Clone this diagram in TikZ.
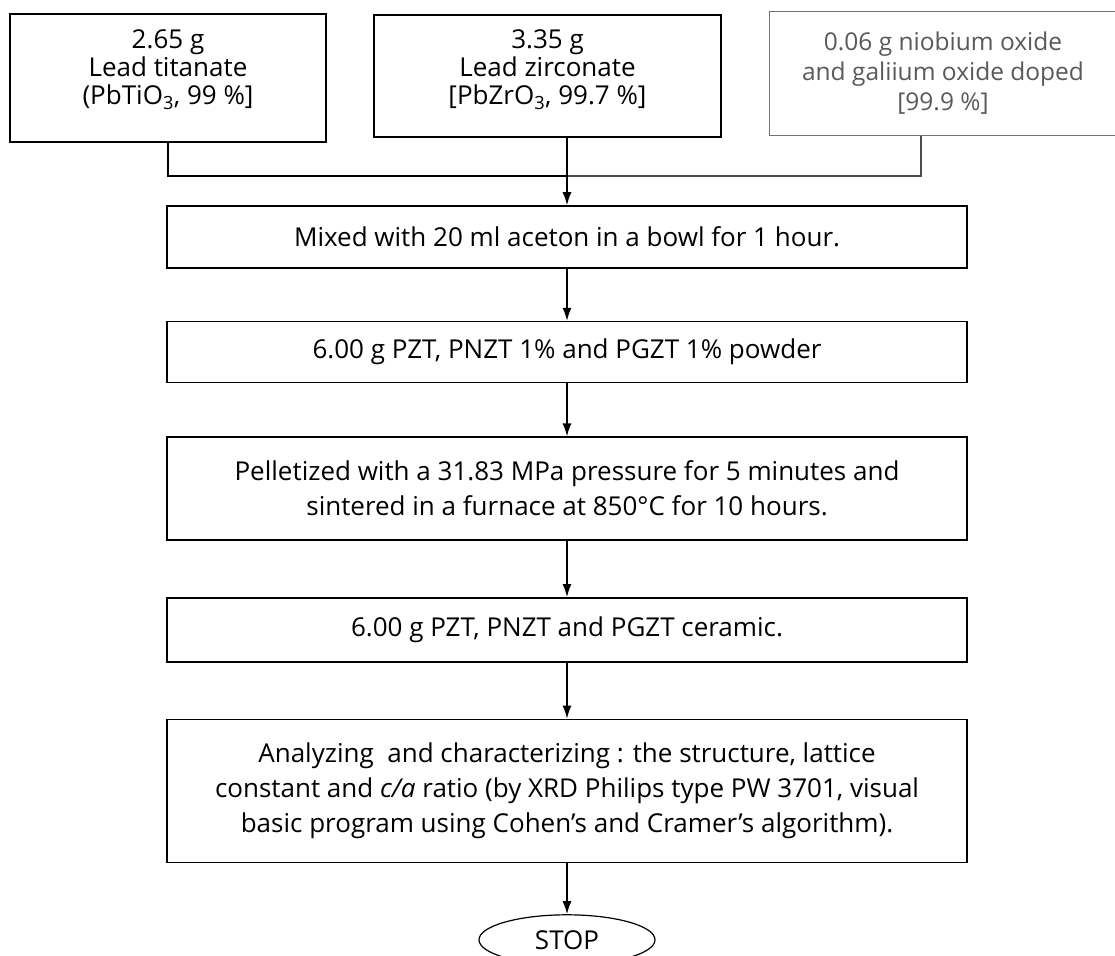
\documentclass[tikz,border=0pt]{standalone}
\usepackage{fontspec}
\setmainfont{Open Sans}
\usepackage{tikz}
\usetikzlibrary{arrows.meta,positioning,shapes.geometric}

\begin{document}
\begin{tikzpicture}[
    x=1pt, y=1pt,
    >={Latex[length=13pt,width=9pt]},
    font=\fontsize{26}{35}\selectfont,
    line width=1.6pt,
    box/.style={
        draw,
        align=center,
        inner sep=0pt,
        minimum width=800pt
    },
    source/.style={
        draw,
        align=center,
        inner sep=0pt,
        font=\fontsize{26}{28}\selectfont
    },
    faint/.style={
        source,
        draw=black!55,
        text=black!65,
        line width=1pt,
        font=\fontsize{24.5}{30}\selectfont
    },
    stopsign/.style={
        ellipse,
        draw,
        line width=1.2pt,
        minimum width=176pt,
        minimum height=50pt
    },
    link/.style={line width=1.4pt},
    edge/.style={->, line width=1.4pt}
]
    \useasboundingbox (0,0) rectangle (1115,-955);

    \node[source, minimum width=316pt, minimum height=128pt] (titanate) at (168,-78)
        {2.65 g\\Lead titanate\\(PbTiO\textsubscript{3}, 99 \%]\\[-6pt]\mbox{}};
    \node[source, minimum width=347pt, minimum height=122pt] (zirconate) at (547.5,-76)
        {3.35 g\\Lead zirconate\\{}[PbZrO\textsubscript{3}, 99.7 \%]\\[-10pt]\mbox{}};
    \node[faint, minimum width=348pt, minimum height=123pt] (dopant) at (943,-73.5)
        {0.06 g niobium oxide\\and galiium oxide doped\\{}[99.9 \%]};

    \node[box, minimum height=62pt] (mix) at (567,-237)
        {Mixed with 20 ml aceton in a bowl for 1 hour.};
    \node[box, minimum height=61pt, below=52pt of mix] (powder)
        {6.00 g PZT, PNZT 1\% and PGZT 1\% powder};
    \node[box, minimum height=103pt, below=53pt of powder] (pellet)
        {Pelletized with a 31.83 MPa pressure for 5 minutes and\\sintered in a furnace at 850°C for 10 hours.};
    \node[box, minimum height=64pt, below=56pt of pellet] (ceramic)
        {6.00 g PZT, PNZT and PGZT ceramic.};
    \node[box, minimum height=143pt, below=56pt of ceramic] (analysis)
        {Analyzing\ \ and characterizing : the structure, lattice\\
        constant and \textit{c/a} ratio (by XRD Philips type PW 3701, visual\\
        basic program using Cohen's and Cramer's algorithm).};
    \node[stopsign, below=51pt of analysis] (stop) {STOP};

    \coordinate (join) at (567,-176);

    \draw[link] (titanate.south) |- (join);
    \draw[link, black!70] ([xshift=-22pt]dopant.south) |- (join);
    \draw[edge] (zirconate.south -| mix.north) -- (mix.north);
    \draw[edge] (mix) -- (powder);
    \draw[edge] (powder) -- (pellet);
    \draw[edge] (pellet) -- (ceramic);
    \draw[edge] (ceramic) -- (analysis);
    \draw[edge] (analysis) -- (stop);
\end{tikzpicture}
\end{document}
